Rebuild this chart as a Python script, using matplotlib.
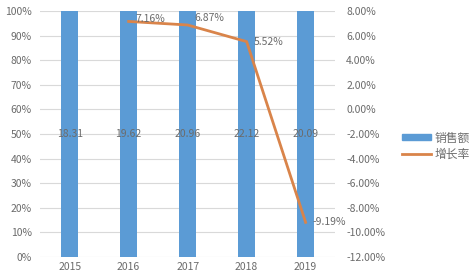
import matplotlib
matplotlib.use("Agg")
import matplotlib.pyplot as plt
from matplotlib.ticker import PercentFormatter, FuncFormatter
from matplotlib.patches import Patch
from matplotlib.lines import Line2D

plt.rcParams['font.family'] = ['Noto Sans CJK SC', 'DejaVu Sans']

years = ["2015", "2016", "2017", "2018", "2019"]
sales = [18.31, 19.62, 20.96, 22.12, 20.09]
bar_height = [100, 100, 100, 100, 100]
growth_years = ["2016", "2017", "2018", "2019"]
growth = [7.16, 6.87, 5.52, -9.19]

bar_color = "#5b9bd5"
line_color = "#d9844a"
text_color = "#6b6b6b"
grid_color = "#d9d9d9"

fig = plt.figure(figsize=(4.72, 2.78), dpi=100)
ax = fig.add_axes([0.085, 0.076, 0.625, 0.884])

x = list(range(len(years)))
ax.bar(x, bar_height, width=0.3, color=bar_color, zorder=2)
for xi, v in zip(x, sales):
    ax.text(xi, 50, f"{v:.2f}", ha="center", va="center", fontsize=7.5, color=text_color, zorder=3)

ax.set_ylim(0, 100)
ax.set_yticks(range(0, 101, 10))
ax.yaxis.set_major_formatter(PercentFormatter(decimals=0))
ax.set_xlim(-0.5, 4.5)
ax.set_xticks(x)
ax.set_xticklabels(years)
ax.grid(axis="y", color=grid_color, linewidth=0.8, zorder=0)
ax.set_axisbelow(True)
for s in ax.spines.values():
    s.set_visible(False)
ax.tick_params(length=0, labelsize=7.5, colors=text_color)
ax.tick_params(axis="y", pad=6)

ax2 = ax.twinx()
gx = [years.index(y) for y in growth_years]
ax2.plot(gx, growth, color=line_color, linewidth=2, zorder=4)
offsets = [0.2, 0.6, 0.0, 0.0]
for xi, v, dy in zip(gx, growth, offsets):
    ax2.text(xi + 0.12, v + dy, f"{v:.2f}%", ha="left", va="center", fontsize=7.5, color=text_color, zorder=5)
ax2.set_ylim(-12, 8)
ax2.set_yticks(range(-12, 9, 2))
ax2.yaxis.set_major_formatter(FuncFormatter(lambda v, p: f"{v:.2f}%"))
for s in ax2.spines.values():
    s.set_visible(False)
ax2.tick_params(length=0, labelsize=7.5, colors=text_color, pad=8)

handles = [Patch(color=bar_color), Line2D([0], [0], color=line_color, linewidth=2)]
fig.legend(handles, ["销售额", "增长率"], loc="center left", bbox_to_anchor=(0.83, 0.475),
           frameon=False, fontsize=8.5, labelcolor=text_color, handlelength=2.4,
           handleheight=0.35, handletextpad=0.3, labelspacing=0.25)

fig.savefig("out.png", dpi=100)
